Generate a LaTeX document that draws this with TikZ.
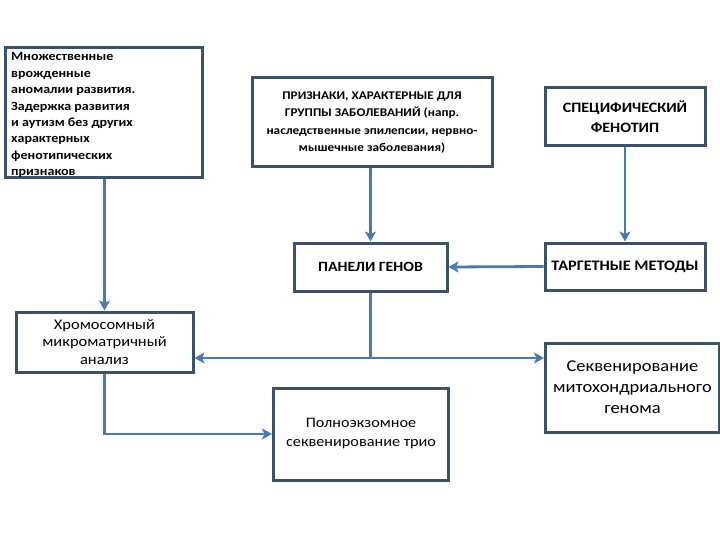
\documentclass[tikz,border=0pt]{standalone}
\usepackage{fontspec}
\setmainfont[FakeStretch=1.12]{Carlito}
\usetikzlibrary{arrows.meta}
\definecolor{boxline}{HTML}{3D5167}
\definecolor{arrline}{HTML}{4A7AB0}

\begin{document}
\begin{tikzpicture}[x=1pt,y=-1pt,
  box/.style={draw=boxline, line width=3pt, fill=white, inner sep=0pt, align=center},
  arr/.style={draw=arrline, line width=2.8pt, -{Stealth[length=10pt,width=11pt,inset=2.5pt]}},
  lin/.style={draw=arrline, line width=2.8pt}]
\useasboundingbox (0,0) rectangle (720,540);

% boxes
\node[box, minimum width=197pt, minimum height=130pt] (symptoms) at (103.5,113) {};
\node[anchor=north west, inner sep=0pt, align=left,
      font=\fontsize{12.5}{16.4}\selectfont\bfseries] (symptomstext) at (11,52.5)
  {Множественные\\врожденные\\аномалии развития.\\Задержка развития\\и аутизм без других\\характерных\\фенотипических\\признаков};
\node[box, minimum width=240pt, minimum height=89pt,
      font=\fontsize{11.8}{17.5}\selectfont\bfseries] (groupsigns) at (372,122.5)
  {ПРИЗНАКИ, ХАРАКТЕРНЫЕ ДЛЯ\\ГРУППЫ ЗАБОЛЕВАНИЙ (напр.\\наследственные эпилепсии, нервно-\\мышечные заболевания)};
\node[box, minimum width=160pt, minimum height=58pt,
      font=\fontsize{14.3}{20}\selectfont\bfseries] (phenotype) at (625,117)
  {СПЕЦИФИЧЕСКИЙ\\ФЕНОТИП};
\node[box, minimum width=153pt, minimum height=48pt,
      font=\fontsize{14.1}{17}\selectfont\bfseries] (panels) at (370.5,267)
  {ПАНЕЛИ ГЕНОВ};
\node[box, minimum width=160pt, minimum height=47pt,
      font=\fontsize{14.5}{17}\selectfont\bfseries] (targeted) at (625,266.5)
  {ТАРГЕТНЫЕ МЕТОДЫ};
\node[box, minimum width=177pt, minimum height=60pt,
      font=\fontsize{14.7}{17.5}\selectfont] (cma) at (104.5,342)
  {Хромосомный\\микроматричный\\анализ};
\node[box, minimum width=175pt, minimum height=92pt,
      font=\fontsize{14.5}{19}\selectfont] (wes) at (361,434)
  {Полноэкзомное\\секвенирование трио};
\node[box, minimum width=174pt, minimum height=89pt,
      font=\fontsize{16.5}{21}\selectfont] (mito) at (632.5,387.5)
  {Секвенирование\\митохондриального\\генома};

% connectors
\coordinate (split) at (panels.south |- 0,358);
\draw[arr] (symptoms.south -| cma.north) -- (cma.north);
\draw[arr] (groupsigns.south -| panels.north) -- (panels.north);
\draw[arr] (phenotype.south) -- (targeted.north);
\draw[arr] (targeted.west) -- (panels.east);
\draw[lin] (panels.south) -- (split);
\draw[arr] (split) -- (cma.east |- split);
\draw[arr] (split) -- (mito.west |- split);
\draw[arr] (cma.south) |- (wes.west);
\end{tikzpicture}
\end{document}
